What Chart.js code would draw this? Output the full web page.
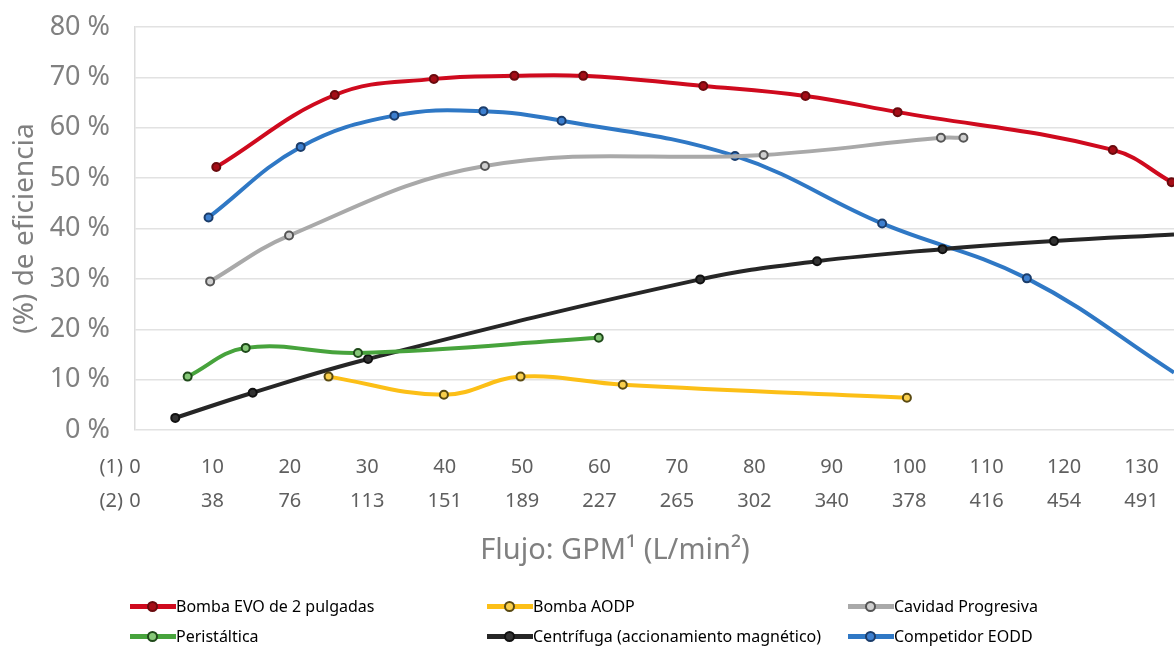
<!DOCTYPE html>
<html><head><meta charset="utf-8">
<script src="https://cdn.jsdelivr.net/npm/chart.js@4"></script>
<style>
html,body{margin:0;padding:0;background:#fff;}
#wrap{position:relative;width:1174px;height:648px;overflow:hidden;}
canvas{position:absolute;left:0;top:0;}
#legend{position:absolute;left:0;top:0;width:1174px;height:648px;pointer-events:none;font-family:"Noto Sans",sans-serif;font-size:16px;color:#000;}
.item{position:absolute;display:flex;align-items:center;height:24px;white-space:nowrap;}
.sample{position:relative;width:46px;height:24px;flex:none;}
.sample .ln{position:absolute;left:0;right:0;top:10px;height:5px;}
.sample .pt{position:absolute;left:17px;top:7px;width:7px;height:7px;border:2px solid;border-radius:50%;}
</style></head><body>
<div id="wrap"><canvas id="c" width="1174" height="648"></canvas><div id="legend"></div></div>
<script>
// ---- data ----
const X_MAX = 134.2;
const gpmTicks = [0,10,20,30,40,50,60,70,80,90,100,110,120,130];
const lminTicks = ['0','38','76','113','151','189','227','265','302','340','378','416','454','491'];
const yTickValues = [0,10,20,30,40,50,60,70,80];
const xTitle = 'Flujo: GPM¹ (L/min²)';
const yTitle = '(%) de eficiencia';

const seriesNames = ['Bomba EVO de 2 pulgadas','Bomba AODP','Cavidad Progresiva','Peristáltica','Centrífuga (accionamiento magnético)','Competidor EODD'];

const evoX = [10.5,25.8,38.6,49.0,57.9,73.4,86.6,98.5,126.3,133.9];
const evoY = [52.2,66.5,69.7,70.3,70.3,68.3,66.3,63.1,55.6,49.2];

const aodpX = [25.0,39.9,49.8,63.0,99.7];
const aodpY = [10.6,7.0,10.6,9.0,6.4];

const cavX = [9.7,19.9,45.2,81.2,104.1,107.0];
const cavY = [29.5,38.6,52.4,54.6,58.0,58.0];

const periX = [6.8,14.3,28.8,59.9];
const periY = [10.6,16.3,15.3,18.3];

const centX = [5.2,15.2,30.1,73.0,88.1,104.3,118.7,134.2];
const centY = [2.4,7.4,14.1,29.9,33.5,35.9,37.5,38.8];

const eoddX = [9.5,21.4,33.5,45.0,55.1,77.5,96.5,115.2,134.2];
const eoddY = [42.2,56.2,62.4,63.3,61.4,54.4,41.0,30.1,11.4];

// ---- styles ----
const styles = [
  {line:'#cf0a1e', pbg:'#a50d17', pbd:'#6a0a0e'},
  {line:'#fcbf17', pbg:'#f9cf4d', pbd:'#5a4a12'},
  {line:'#a9a9a9', pbg:'#cfcfcf', pbd:'#555555'},
  {line:'#47a33c', pbg:'#86c878', pbd:'#1f4a1a'},
  {line:'#262626', pbg:'#333333', pbd:'#111111'},
  {line:'#2f78c5', pbg:'#3d7fcf', pbd:'#1b3d6b'}
];
const xs = [evoX,aodpX,cavX,periX,centX,eoddX];
const ys = [evoY,aodpY,cavY,periY,centY,eoddY];

const datasets = seriesNames.map((n,i)=>({
  label:n,
  data: xs[i].map((x,j)=>({x:x,y:ys[i][j]})),
  showLine:true,
  borderColor:styles[i].line,
  borderWidth:4,
  tension:0.4,
  pointRadius: c => (c.raw && c.raw.x >= X_MAX-0.05) ? 0 : 4,
  pointBorderWidth:2,
  pointBackgroundColor:styles[i].pbg,
  pointBorderColor:styles[i].pbd,
  fill:false
}));

const TICK_PAD = 20, TICK_LH = 34;
const axisTextPlugin = {
  id:'axisText',
  afterDraw(chart){
    const ctx = chart.ctx, sx = chart.scales.x;
    const x0 = sx.getPixelForValue(0);
    const b = chart.chartArea.bottom;
    ctx.save();
    ctx.font = '20px "Noto Sans"';
    ctx.fillStyle = '#5f5f5f';
    ctx.textAlign = 'right';
    ctx.textBaseline = 'middle';
    ctx.fillText('(1)', x0 - 12, b + TICK_PAD + TICK_LH/2);
    ctx.fillText('(2)', x0 - 12, b + TICK_PAD + TICK_LH/2 + TICK_LH);
    // x-axis title (offset left of the plot centre, as in the source)
    ctx.font = '29px "Noto Sans"';
    ctx.fillStyle = '#808080';
    ctx.textAlign = 'center';
    ctx.fillText(xTitle, 615, b + 121);
    ctx.restore();
  }
};

const chart = new Chart(document.getElementById('c'), {
  type:'scatter',
  data:{datasets},
  options:{
    responsive:false,
    animation:false,
    layout:{autoPadding:false, padding:{left:0,right:0,top:27,bottom:82}},
    plugins:{legend:{display:false},tooltip:{enabled:false}},
    scales:{
      x:{
        type:'linear', min:0, max:X_MAX,
        grid:{display:false, drawTicks:false, tickLength:0},
        border:{display:false},
        afterBuildTicks: s => { s.ticks = gpmTicks.map(v=>({value:v})); },
        afterFit: s => { s.height = 136; s.paddingLeft = 0; s.paddingRight = 0; },
        ticks:{
          padding:TICK_PAD,
          maxRotation:0, autoSkip:false,
          font:{family:'"Noto Sans"', size:20, lineHeight:TICK_LH+'px'},
          color:'#5f5f5f',
          callback:(v)=>{ const i = gpmTicks.indexOf(v); return i<0 ? '' : [String(v), lminTicks[i]]; }
        },
        title:{display:false, text:xTitle}
      },
      y:{
        min:0, max:80,
        afterBuildTicks: s => { s.ticks = yTickValues.map(v=>({value:v})); },
        afterFit: s => { s.width = 135; s.paddingTop = 0; s.paddingBottom = 0; },
        grid:{color:'#e2e2e2', lineWidth:1.5, drawTicks:false},
        border:{display:true, color:'#dcdcdc', width:1.5},
        ticks:{padding:25, color:'#808080', font:{family:'"Noto Sans"', size:27},
          callback:v=>v+' %'},
        title:{display:true, text:yTitle, color:'#808080',
          font:{family:'"Noto Sans"', size:28, lineHeight:1.2}, padding:{top:8,bottom:0}}
      }
    }
  },
  plugins:[axisTextPlugin]
});

// ---- legend (HTML, built from datasets) ----
const legendCols = [130,487,848];
const legendRows = [606,636];
const legend = document.getElementById('legend');
const order = [[0,0],[1,0],[2,0],[0,1],[1,1],[2,1]];
chart.data.datasets.forEach((ds,i)=>{
  const [c,r] = order[i];
  const it = document.createElement('div');
  it.className='item';
  it.style.left = legendCols[c]+'px';
  it.style.top = (legendRows[r]-12)+'px';
  const s = document.createElement('div'); s.className='sample';
  const ln = document.createElement('div'); ln.className='ln'; ln.style.background = ds.borderColor;
  const pt = document.createElement('div'); pt.className='pt'; pt.style.background = ds.pointBackgroundColor; pt.style.borderColor = ds.pointBorderColor;
  s.appendChild(ln); s.appendChild(pt);
  const t = document.createElement('span'); t.textContent = ds.label;
  it.appendChild(s); it.appendChild(t);
  legend.appendChild(it);
});
</script>
</body></html>
